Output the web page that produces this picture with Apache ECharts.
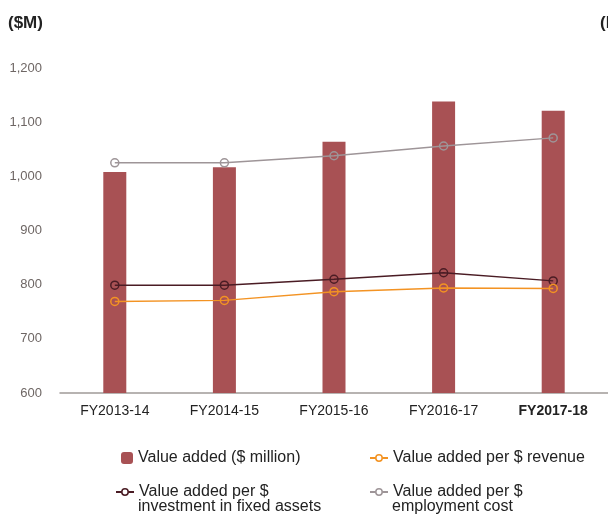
<!DOCTYPE html>
<html><head><meta charset="utf-8">
<script src="https://cdn.jsdelivr.net/npm/echarts@6/dist/echarts.min.js"></script>
<style>html,body{margin:0;padding:0;background:#fff}#c{width:608px;height:514px}</style>
</head><body><div id="c"></div>
<script>
const categories = ['FY2013-14','FY2014-15','FY2015-16','FY2016-17','FY2017-18'];
const valueAdded = [1008, 1017, 1064, 1138, 1121];
const perRevenue = [769, 771, 787, 794, 793];
const perFixedAssets = [799, 799, 810, 822, 807];
const perEmployment = [1025, 1025, 1038, 1056, 1071];
const yTicks = [600, 700, 800, 900, 1000, 1100, 1200];

const FONT = '"Liberation Sans", Arial, sans-serif';
const names = ['Value added ($ million)', 'Value added per $ revenue',
  'Value added per $ investment in fixed assets', 'Value added per $ employment cost'];
const firstLine = n => n.replace(/ (investment|employment).*$/, '');
const secondLine = n => { const m = n.match(/(investment.*|employment.*)$/); return m ? m[1] : ''; };

function lineSeries(name, data, color) {
  return {
    name, type: 'line', data, symbol: 'circle', symbolSize: 8,
    lineStyle: { color, width: 1.5 },
    itemStyle: { color: 'rgba(255,255,255,0)', borderColor: color, borderWidth: 1.5 },
    z: 3, animation: false
  };
}
function leg(name, left, top) {
  const sq = name === names[0];
  const o = {
    data: [name], left, top, itemWidth: sq ? 12 : 18, itemHeight: sq ? 12 : 8, itemGap: 0,
    formatter: firstLine, selectedMode: false,
    textStyle: { fontFamily: FONT, fontSize: 16, color: '#222' }
  };
  if (!sq) o.itemStyle = { color: '#fff', borderWidth: 1.5 };
  return o;
}

const chart = echarts.init(document.getElementById('c'), null, { renderer: 'canvas' });
chart.setOption({
  animation: false,
  grid: { left: 60, right: 0, top: 68, bottom: 121, containLabel: false },
  graphic: [
    { type: 'text', left: 8, top: 15, style: { text: '($M)', font: 'bold 17px ' + FONT, fill: '#222' } },
    { type: 'text', left: 600, top: 15, style: { text: '(Ratio)', font: 'bold 17px ' + FONT, fill: '#222' } },
    { type: 'text', left: 138, top: 499, style: { text: secondLine(names[2]), font: '16px ' + FONT, fill: '#222' } },
    { type: 'text', left: 392, top: 499, style: { text: secondLine(names[3]), font: '16px ' + FONT, fill: '#222' } }
  ],
  legend: [
    leg(names[0], 116, 445),
    leg(names[1], 364, 445),
    leg(names[2], 110, 479),
    leg(names[3], 364, 479)
  ],
  xAxis: {
    type: 'category', data: categories,
    axisLine: { lineStyle: { color: '#a09a98', width: 1.5 } },
    axisTick: { show: false },
    axisLabel: {
      interval: 0, margin: 11, fontFamily: FONT, fontSize: 14, color: '#222',
      formatter: (v, i) => i === categories.length - 1 ? '{b|' + v + '}' : v,
      rich: { b: { fontFamily: FONT, fontSize: 14, fontWeight: 'bold', color: '#222' } }
    }
  },
  yAxis: {
    type: 'value', min: yTicks[0], max: yTicks[yTicks.length - 1], interval: 100,
    axisLine: { show: false }, axisTick: { show: false }, splitLine: { show: false },
    axisLabel: {
      margin: 18, fontFamily: FONT, fontSize: 13, color: '#6e6664',
      formatter: v => v.toLocaleString('en-US')
    }
  },
  series: [
    { name: names[0], type: 'bar', data: valueAdded, barWidth: 23,
      itemStyle: { color: '#a85154' }, z: 2 },
    lineSeries(names[3], perEmployment, '#9e9598'),
    lineSeries(names[2], perFixedAssets, '#4a1c24'),
    lineSeries(names[1], perRevenue, '#f39323')
  ]
});
</script>
</body></html>
